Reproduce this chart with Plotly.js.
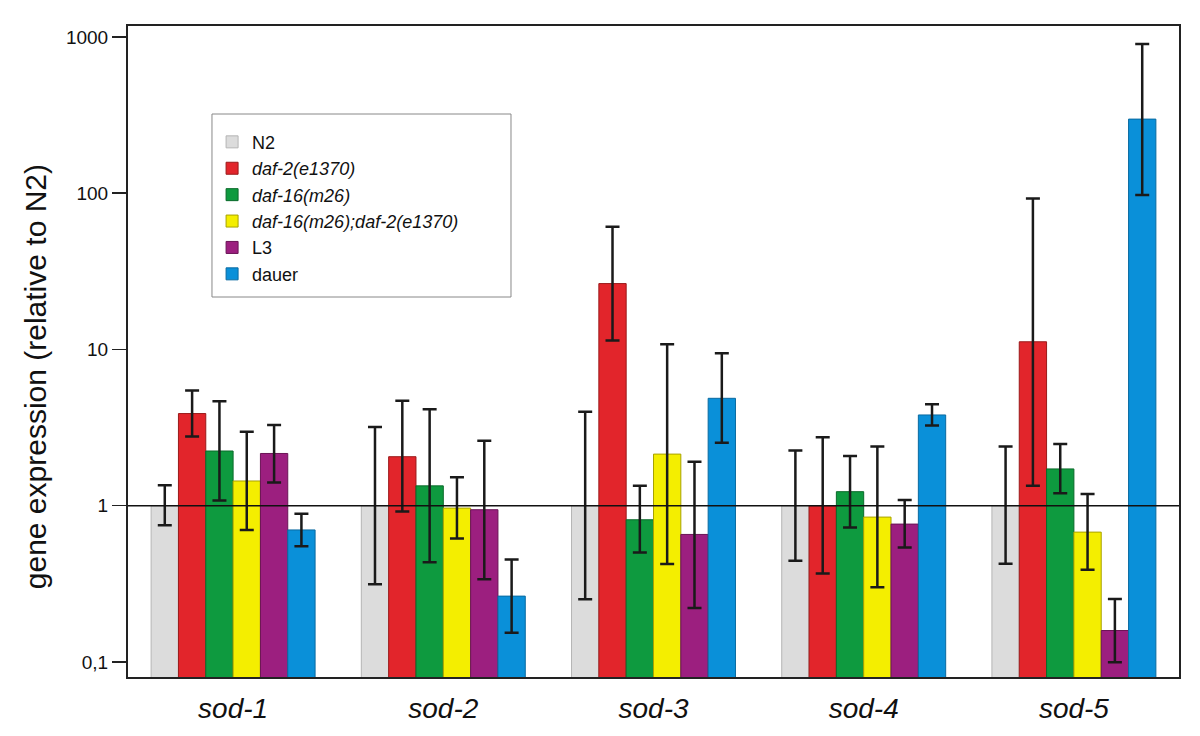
<!DOCTYPE html>
<html><head><meta charset="utf-8">
<script src="https://cdn.plot.ly/plotly-3.0.1.min.js"></script>
<style>html,body{margin:0;padding:0;background:#fff;}#chart{width:1200px;height:736px;}</style>
</head><body><div id="chart"></div>
<script>
const genes = ['<i>sod-1</i>','<i>sod-2</i>','<i>sod-3</i>','<i>sod-4</i>','<i>sod-5</i>'];
const seriesNames = ['N2','<i>daf-2(e1370)</i>','<i>daf-16(m26)</i>','<i>daf-16(m26);daf-2(e1370)</i>','L3','dauer'];
const colors = ['#dcdcdc','#e2252b','#0e9a3f','#f4ee00','#9c1f7f','#0a90d9'];
const lineColors = ['#b5b5b5','#9a1a1a','#0a6a2a','#a8a200','#6a1456','#0a6aa0'];

// mean values
const n2      = [1, 1, 1, 1, 1];
const daf2    = [3.89, 2.06, 26.4, 1.0, 11.2];
const daf16   = [2.24, 1.34, 0.813, 1.23, 1.72];
const double_ = [1.44, 0.966, 2.14, 0.846, 0.678];
const l3      = [2.16, 0.943, 0.655, 0.763, 0.159];
const dauer   = [0.70, 0.264, 4.87, 3.81, 298];

// upper error bounds
const n2Hi     = [1.35, 3.19, 4.0, 2.26, 2.39];
const daf2Hi   = [5.46, 4.69, 61.1, 2.74, 92.5];
const daf16Hi  = [4.66, 4.14, 1.34, 2.08, 2.48];
const doubleHi = [2.98, 1.52, 10.8, 2.39, 1.19];
const l3Hi     = [3.29, 2.61, 1.91, 1.09, 0.253];
const dauerHi  = [0.89, 0.453, 9.47, 4.46, 902];

// lower error bounds
const n2Lo     = [0.75, 0.315, 0.252, 0.444, 0.425];
const daf2Lo   = [2.77, 0.92, 11.4, 0.368, 1.34];
const daf16Lo  = [1.08, 0.435, 0.502, 0.726, 1.2];
const doubleLo = [0.70, 0.617, 0.423, 0.301, 0.389];
const l3Lo     = [1.41, 0.339, 0.222, 0.541, 0.0995];
const dauerLo  = [0.55, 0.154, 2.53, 3.26, 97.5];

const vals = [n2, daf2, daf16, double_, l3, dauer];
const his = [n2Hi, daf2Hi, daf16Hi, doubleHi, l3Hi, dauerHi];
const los = [n2Lo, daf2Lo, daf16Lo, doubleLo, l3Lo, dauerLo];

const traces = vals.map((v, i) => ({
  type: 'bar',
  name: seriesNames[i],
  x: genes,
  y: v,
  marker: {color: colors[i], line: {color: lineColors[i], width: 1}},
  error_y: {
    type: 'data', symmetric: false,
    array: v.map((m, j) => his[i][j] - m),
    arrayminus: v.map((m, j) => m - los[i][j]),
    color: '#1a1a1a', thickness: 2.5, width: 7
  }
}));

const layout = {
  width: 1200, height: 736,
  margin: {l: 128, r: 21, t: 26, b: 59},
  paper_bgcolor: '#fff', plot_bgcolor: '#fff',
  font: {family: 'Liberation Sans, Arial, sans-serif', color: '#111'},
  barmode: 'group', bargap: 0.22, bargroupgap: 0,
  showlegend: true,
  legend: {
    x: 0.08, y: 0.85, xanchor: 'left', yanchor: 'top',
    bgcolor: 'rgba(0,0,0,0)', borderwidth: 0,
    font: {size: 18, color: '#111'}, tracegroupgap: 0
  },
  xaxis: {
    showline: true, linecolor: '#222', linewidth: 2, mirror: true,
    ticks: '', tickfont: {size: 28, color: '#111'}, ticklabelstandoff: 5,
    showgrid: false, zeroline: false
  },
  yaxis: {
    type: 'log', range: [-1.096, 3.07],
    showline: true, linecolor: '#222', linewidth: 2, mirror: true,
    ticks: 'outside', ticklen: 14, tickwidth: 1.5, tickcolor: '#222',
    tickvals: [0.1, 1, 10, 100, 1000],
    ticktext: ['0,1', '1', '10', '100', '1000'],
    tickfont: {size: 19, color: '#111'},
    showgrid: false, zeroline: false
  },
  annotations: [{
    text: 'gene expression (relative to N2)', textangle: -90,
    xref: 'paper', yref: 'paper', x: -0.0885, y: 0.462,
    xanchor: 'center', yanchor: 'middle', showarrow: false,
    font: {size: 30, color: '#111'}
  }],
  shapes: [{
    type: 'line', xref: 'paper', yref: 'y', x0: 0, x1: 1, y0: 1, y1: 1,
    line: {color: '#111', width: 1.3}
  }, {
    type: 'rect', xref: 'paper', yref: 'paper', x0: 0.0799, x1: 0.3644, y0: 0.5837, y1: 0.8648,
    line: {color: '#888', width: 1}, fillcolor: 'rgba(0,0,0,0)'
  }]
};

Plotly.newPlot('chart', traces, layout, {displayModeBar: false, staticPlot: true});
</script>
</body></html>
